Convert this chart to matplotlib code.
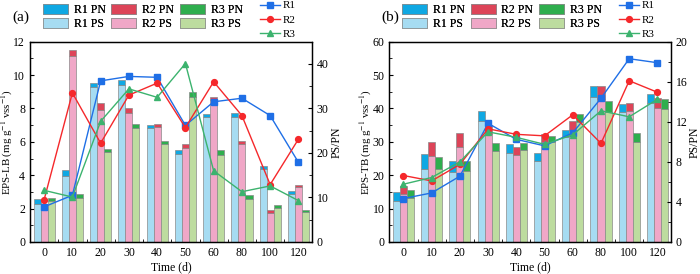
import numpy as np
import matplotlib
matplotlib.use("Agg")
import matplotlib.pyplot as plt
from matplotlib.ticker import MultipleLocator, FixedLocator
from matplotlib.lines import Line2D
from matplotlib.patches import Patch

plt.rcParams['font.family'] = ['Liberation Serif', 'DejaVu Serif']
plt.rcParams['mathtext.fontset'] = 'stix'

days = ['0', '10', '20', '30', '40', '50', '60', '80', '100', '120']

# EPS-LB (panel a)
r1_ps_lb = [2.27, 3.95, 9.28, 9.40, 6.80, 5.29, 7.47, 7.47, 4.35, 2.90]
r1_pn_lb = [0.29, 0.36, 0.27, 0.30, 0.20, 0.24, 0.22, 0.24, 0.20, 0.15]
r2_ps_lb = [1.98, 11.15, 7.90, 7.74, 6.87, 5.61, 8.50, 5.85, 1.76, 3.28]
r2_pn_lb = [0.20, 0.34, 0.40, 0.26, 0.20, 0.24, 0.20, 0.20, 0.18, 0.15]
r3_ps_lb = [2.44, 2.61, 5.40, 6.84, 5.88, 8.70, 5.23, 2.60, 2.05, 1.78]
r3_pn_lb = [0.21, 0.25, 0.20, 0.21, 0.20, 0.26, 0.26, 0.20, 0.18, 0.16]
r1_ratio_lb = [7.9, 10.5, 36.2, 37.2, 37.0, 26.2, 31.5, 32.3, 28.4, 17.9]
r2_ratio_lb = [9.5, 33.5, 22.2, 33.0, 35.7, 25.7, 36.0, 28.4, 12.9, 23.1]
r3_ratio_lb = [11.6, 10.1, 27.1, 34.4, 32.5, 40.1, 16.0, 11.3, 12.6, 9.3]

# EPS-TB (panel b)
r1_ps_tb = [12.4, 21.8, 21.0, 36.1, 26.6, 24.3, 31.5, 43.5, 39.0, 41.7]
r1_pn_tb = [2.7, 4.6, 3.3, 3.2, 2.7, 2.3, 2.1, 3.3, 2.3, 2.5]
r2_ps_tb = [14.4, 25.7, 28.6, 32.3, 26.1, 30.0, 33.6, 42.8, 39.2, 40.0]
r2_pn_tb = [2.4, 4.4, 4.0, 2.7, 2.5, 2.3, 2.6, 3.9, 2.3, 3.0]
r3_ps_tb = [13.3, 22.0, 21.4, 27.4, 27.6, 30.0, 35.8, 39.0, 30.0, 39.8]
r3_pn_tb = [2.3, 3.6, 2.9, 2.3, 2.0, 1.8, 2.4, 3.2, 2.6, 2.9]
r1_ratio_tb = [4.34, 4.9, 6.57, 11.85, 10.25, 9.6, 10.9, 14.35, 18.3, 17.9]
r2_ratio_tb = [6.64, 6.1, 7.75, 11.3, 10.75, 10.6, 12.7, 9.85, 16.1, 14.95]
r3_ratio_tb = [5.77, 6.44, 8.0, 11.0, 10.45, 9.75, 10.7, 13.1, 12.5, 14.25]

pn_colors = ['#0fa8e3', '#dd4458', '#2fae4e']
ps_colors = ['#a6dcf2', '#f0a7c7', '#bddc9f']
line_colors = ['#1f6fe6', '#f5282b', '#3cb36e']
markers = ['s', 'o', '^']

fig = plt.figure(figsize=(7, 2.74), dpi=100)
axL = fig.add_axes([30/700, 32/274, 281.7/700, 200.3/274])
axR = fig.add_axes([389.3/700, 32/274, 281.4/700, 200.3/274])

def draw(ax, ps_list, pn_list, ratios, ylim, ymaj, ymin, rlim, rmaj, rmin, ylabel, ylx, rlx):
    x = np.arange(len(days))
    w = 0.25
    offs = [-0.25, 0.0, 0.25]
    for i in range(3):
        ax.bar(x + offs[i], ps_list[i], w, color=ps_colors[i], edgecolor='#8a8a8a', linewidth=0.5, zorder=2)
        ax.bar(x + offs[i], pn_list[i], w, bottom=ps_list[i], color=pn_colors[i], edgecolor='#8a8a8a', linewidth=0.5, zorder=2)
    ax.set_xlim(-0.5, 9.47)
    ax.set_ylim(*ylim)
    ax.yaxis.set_major_locator(MultipleLocator(ymaj))
    ax.yaxis.set_minor_locator(MultipleLocator(ymin))
    ax.set_xticks(x)
    ax.set_xticklabels(days)
    ax.xaxis.set_minor_locator(FixedLocator(x[:-1] + 0.5))
    ax.tick_params(which='both', direction='in', labelsize=8.5)
    ax.tick_params(which='major', length=3, width=0.8)
    ax.tick_params(which='minor', length=2, width=0.6)
    ax.set_xlabel('Time (d)', fontsize=8.5, labelpad=2)
    ax.set_ylabel(ylabel, fontsize=7.8)
    ax.yaxis.set_label_coords(ylx, 0.5)
    ax2 = ax.twinx()
    for i in range(3):
        ax2.plot(x, ratios[i], '-', marker=markers[i], color=line_colors[i], lw=1.0, ms=4.2, zorder=3)
    ax2.set_ylim(*rlim)
    ax2.yaxis.set_major_locator(MultipleLocator(rmaj))
    ax2.yaxis.set_minor_locator(MultipleLocator(rmin))
    ax2.tick_params(which='both', direction='in', labelsize=8.5)
    ax2.tick_params(which='major', length=3, width=0.8)
    ax2.tick_params(which='minor', length=2, width=0.6)
    ax2.set_ylabel('PS/PN', fontsize=8.5)
    ax2.yaxis.set_label_coords(rlx, 0.5)
    for a in (ax, ax2):
        for s in a.spines.values():
            s.set_linewidth(0.9)

    handles = []
    labels = []
    for i in range(3):
        handles.append(Patch(facecolor=pn_colors[i], edgecolor='#8a8a8a', linewidth=0.5))
        labels.append('R%d PN' % (i + 1))
        handles.append(Patch(facecolor=ps_colors[i], edgecolor='#8a8a8a', linewidth=0.5))
        labels.append('R%d PS' % (i + 1))
    leg1 = ax.legend(handles, labels, ncol=3, loc='upper left', bbox_to_anchor=(0.046, 1.19),
                     frameon=False, fontsize=8.5, handlelength=2.1, handleheight=0.95,
                     handletextpad=0.5, columnspacing=0.5, labelspacing=0.2,
                     borderpad=0, borderaxespad=0)
    lh = [Line2D([], [], color=line_colors[i], marker=markers[i], lw=1.0, ms=4.2) for i in range(3)]
    ax2.legend(lh, ['R1', 'R2', 'R3'], loc='upper left', bbox_to_anchor=(0.815, 1.205),
               frameon=False, fontsize=8, handlelength=1.8, handletextpad=0.3,
               labelspacing=0.4, borderpad=0, borderaxespad=0)
    ax.add_artist(leg1)
    return ax2

draw(axL, [r1_ps_lb, r2_ps_lb, r3_ps_lb], [r1_pn_lb, r2_pn_lb, r3_pn_lb],
     [r1_ratio_lb, r2_ratio_lb, r3_ratio_lb], (0, 12), 2, 1, (0, 45), 10, 5,
     'EPS-LB (mg g$^{-1}$ vss$^{-1}$)', -0.052, 1.068)
draw(axR, [r1_ps_tb, r2_ps_tb, r3_ps_tb], [r1_pn_tb, r2_pn_tb, r3_pn_tb],
     [r1_ratio_tb, r2_ratio_tb, r3_ratio_tb], (0, 60), 10, 5, (0, 20), 4, 2,
     'EPS-TB (mg g$^{-1}$ vss$^{-1}$)', -0.056, 1.062)

fig.text(12/700, 1 - 17/274, '(a)', fontsize=11, va='center', ha='left')
fig.text(381/700, 1 - 17/274, '(b)', fontsize=11, va='center', ha='left')

fig.savefig('out.png', dpi=100)
